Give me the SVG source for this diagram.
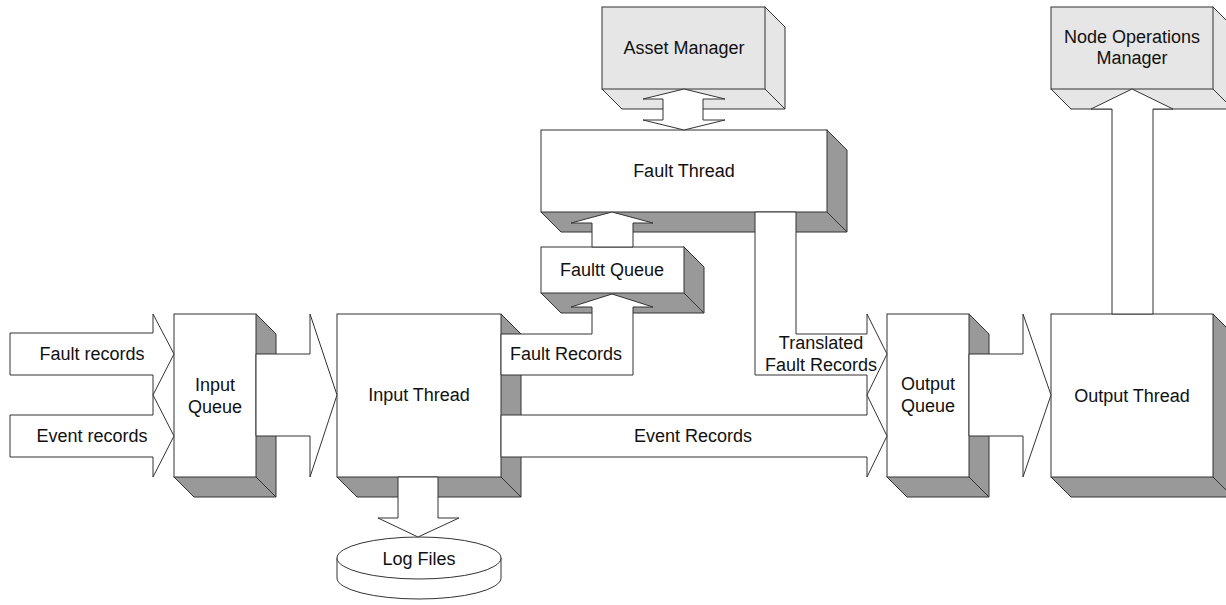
<svg xmlns="http://www.w3.org/2000/svg" width="1226" height="605" viewBox="0 0 1226 605">
  <style>
    .front { fill: #ffffff; stroke: #333333; stroke-width: 1; }
    .front.mgr { fill: #e6e6e6; }
    .depth { fill: #999999; stroke: #333333; stroke-width: 1; stroke-linejoin: miter; }
    .depth.mgr { fill: #e6e6e6; }
    .edge { fill: none; stroke: #333333; stroke-width: 1; }
    .flow { fill: #ffffff; stroke: #333333; stroke-width: 1; stroke-linejoin: miter; }
    text { font-family: "Liberation Sans", Arial, sans-serif; font-size: 18px; fill: #111111; text-anchor: middle; }
  </style>

  <!-- Boxes: gray depth faces offset 20px right and down, white front face on top -->
  <g id="input-queue">
    <path class="depth" d="M256,314 L276,334 L276,497 L194,497 L174,477 Z"/>
    <path class="edge" d="M256,477 L276,497"/>
    <rect class="front" x="174" y="314" width="82" height="163"/>
    <text x="215" y="391">Input</text>
    <text x="215" y="413">Queue</text>
  </g>

  <g id="input-thread">
    <path class="depth" d="M501,314 L521,334 L521,497 L357,497 L337,477 Z"/>
    <path class="edge" d="M501,477 L521,497"/>
    <rect class="front" x="337" y="314" width="164" height="163"/>
    <text x="419" y="401">Input Thread</text>
  </g>

  <g id="fault-queue">
    <path class="depth" d="M684,247 L704,267 L704,313 L561,313 L541,293 Z"/>
    <path class="edge" d="M684,293 L704,313"/>
    <rect class="front" x="541" y="247" width="143" height="46"/>
    <text x="612" y="276">Faultt Queue</text>
  </g>

  <g id="fault-thread">
    <path class="depth" d="M827,130 L847,150 L847,232 L561,232 L541,212 Z"/>
    <path class="edge" d="M827,212 L847,232"/>
    <rect class="front" x="541" y="130" width="286" height="82"/>
    <text x="684" y="177">Fault Thread</text>
  </g>

  <g id="asset-manager">
    <path class="depth mgr" d="M765,7 L785,27 L785,109 L622,109 L602,89 Z"/>
    <path class="edge" d="M765,89 L785,109"/>
    <rect class="front mgr" x="602" y="7" width="163" height="82"/>
    <text x="684" y="54">Asset Manager</text>
  </g>

  <g id="output-queue">
    <path class="depth" d="M969,314 L989,334 L989,497 L907,497 L887,477 Z"/>
    <path class="edge" d="M969,477 L989,497"/>
    <rect class="front" x="887" y="314" width="82" height="163"/>
    <text x="928" y="390">Output</text>
    <text x="928" y="412">Queue</text>
  </g>

  <g id="output-thread">
    <path class="depth" d="M1213,314 L1233,334 L1233,497 L1071,497 L1051,477 Z"/>
    <path class="edge" d="M1213,477 L1233,497"/>
    <rect class="front" x="1051" y="314" width="162" height="163"/>
    <text x="1132" y="402">Output Thread</text>
  </g>

  <g id="node-operations-manager">
    <path class="depth mgr" d="M1213,7 L1233,27 L1233,109 L1071,109 L1051,89 Z"/>
    <path class="edge" d="M1213,89 L1233,109"/>
    <rect class="front mgr" x="1051" y="7" width="162" height="82"/>
    <text x="1132" y="43">Node Operations</text>
    <text x="1132" y="64">Manager</text>
  </g>

  <g id="log-files">
    <path class="front" d="M337,558 L337,578 A82,21 0 0 0 501,578 L501,558 Z"/>
    <ellipse class="front" cx="419" cy="558" rx="82" ry="21"/>
    <text x="419" y="565">Log Files</text>
  </g>

  <!-- Block arrows carrying records between the stages -->
  <g id="connectors">
    <path class="flow" d="M10,333 L153,333 L153,314 L174,354 L153,395 L153,375 L10,375 Z"/>
    <path class="flow" d="M10,415 L153,415 L153,395 L174,436 L153,477 L153,457 L10,457 Z"/>
    <path class="flow" d="M256,354 L310,354 L310,314 L337,395 L310,477 L310,436 L256,436 Z"/>
    <path class="flow" d="M501,334 L592,334 L592,307 L571,307 L612,294 L653,307 L633,307 L633,375 L501,375 Z"/>
    <path class="flow" d="M592,247 L592,223 L571,223 L612,212 L653,223 L633,223 L633,247 Z"/>
    <path class="flow" d="M684,89 L725,99 L703,99 L703,120 L725,120 L684,130 L643,120 L663,120 L663,99 L643,99 Z"/>
    <path class="flow" d="M755,212 L796,212 L796,334 L867,334 L867,314 L887,354 L867,395 L867,375 L755,375 Z"/>
    <path class="flow" d="M501,415 L867,415 L867,395 L887,436 L867,477 L867,457 L501,457 Z"/>
    <path class="flow" d="M969,354 L1023,354 L1023,314 L1051,395 L1023,477 L1023,436 L969,436 Z"/>
    <path class="flow" d="M1112,314 L1112,109 L1091,109 L1132,89 L1173,109 L1153,109 L1153,314 Z"/>
    <path class="flow" d="M398,477 L438,477 L438,518 L459,518 L418,537 L378,518 L398,518 Z"/>
    <text x="92" y="360">Fault records</text>
    <text x="92" y="442">Event records</text>
    <text x="566" y="360">Fault Records</text>
    <text x="821" y="349">Translated</text>
    <text x="821" y="371">Fault Records</text>
    <text x="693" y="442">Event Records</text>
  </g>
</svg>
